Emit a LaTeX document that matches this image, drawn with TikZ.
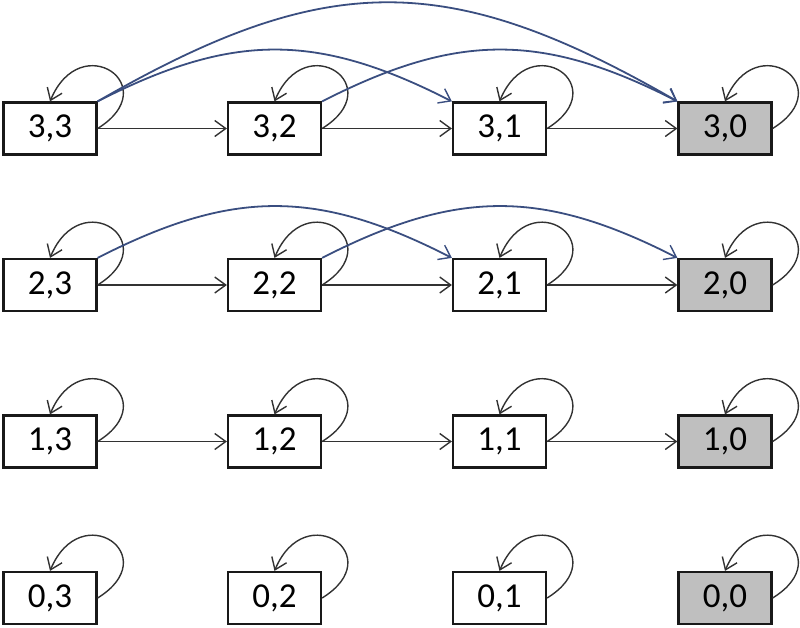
\documentclass[tikz,border=0pt]{standalone}
\usepackage{fontspec}
\setmainfont{Carlito}
\usetikzlibrary{arrows.meta}
\definecolor{bluearc}{RGB}{58,78,128}
\definecolor{boxgray}{RGB}{191,191,191}
\definecolor{linegray}{RGB}{50,50,50}
\tikzset{
  state/.style={draw=black!90, line width=2.2pt, fill=white, minimum width=93pt, minimum height=52pt, inner sep=0pt, font=\fontsize{35}{40}\selectfont},
  absorb/.style={state, fill=boxgray},
  tip/.style={-{Straight Barb[length=11pt,width=16pt,line width=1.4pt]}},
  trans/.style={tip, draw=linegray, line width=1.4pt},
  jump/.style={tip, draw=bluearc, line width=1.8pt},
  selfloop/.style={tip, draw=linegray, line width=1.4pt}
}
\begin{document}
\begin{tikzpicture}[x=1pt,y=-1pt]
\useasboundingbox (0,0) rectangle (800,627);
% rows: i = 3..0, columns: j = 3..0
\node[state] (s33) at (50,128.5) {3,3};
\node[state] (s32) at (274.5,128.5) {3,2};
\node[state] (s31) at (499.5,128.5) {3,1};
\node[absorb] (s30) at (725,128.5) {3,0};
\node[state] (s23) at (50,285) {2,3};
\node[state] (s22) at (274.5,285) {2,2};
\node[state] (s21) at (499.5,285) {2,1};
\node[absorb] (s20) at (725,285) {2,0};
\node[state] (s13) at (50,441.5) {1,3};
\node[state] (s12) at (274.5,441.5) {1,2};
\node[state] (s11) at (499.5,441.5) {1,1};
\node[absorb] (s10) at (725,441.5) {1,0};
\node[state] (s03) at (50,598) {0,3};
\node[state] (s02) at (274.5,598) {0,2};
\node[state] (s01) at (499.5,598) {0,1};
\node[absorb] (s00) at (725,598) {0,0};
% self loops
\foreach \n in {s33,s32,s31,s30,s23,s22,s21,s20,s13,s12,s11,s10,s03,s02,s01,s00}{
  \draw[selfloop] (\n.east) .. controls +(68,-42) and +(31,-74) .. (\n.north);
}
% horizontal transitions
\draw[trans] (s33) -- (s32);
\draw[trans] (s32) -- (s31);
\draw[trans] (s31) -- (s30);
\draw[trans] (s23) -- (s22);
\draw[trans] (s22) -- (s21);
\draw[trans] (s21) -- (s20);
\draw[trans] (s13) -- (s12);
\draw[trans] (s12) -- (s11);
\draw[trans] (s11) -- (s10);
% blue jumps
\draw[jump] (s33.north east) .. controls +(229,-132) and +(-229,-132) .. (s30.north west);
\draw[jump] (s33.north east) .. controls +(135,-69) and +(-135,-69) .. (s31.north west);
\draw[jump] (s32.north east) .. controls +(135,-69) and +(-135,-69) .. (s30.north west);
\draw[jump] (s23.north east) .. controls +(135,-69) and +(-135,-69) .. (s21.north west);
\draw[jump] (s22.north east) .. controls +(135,-69) and +(-135,-69) .. (s20.north west);
\end{tikzpicture}
\end{document}
